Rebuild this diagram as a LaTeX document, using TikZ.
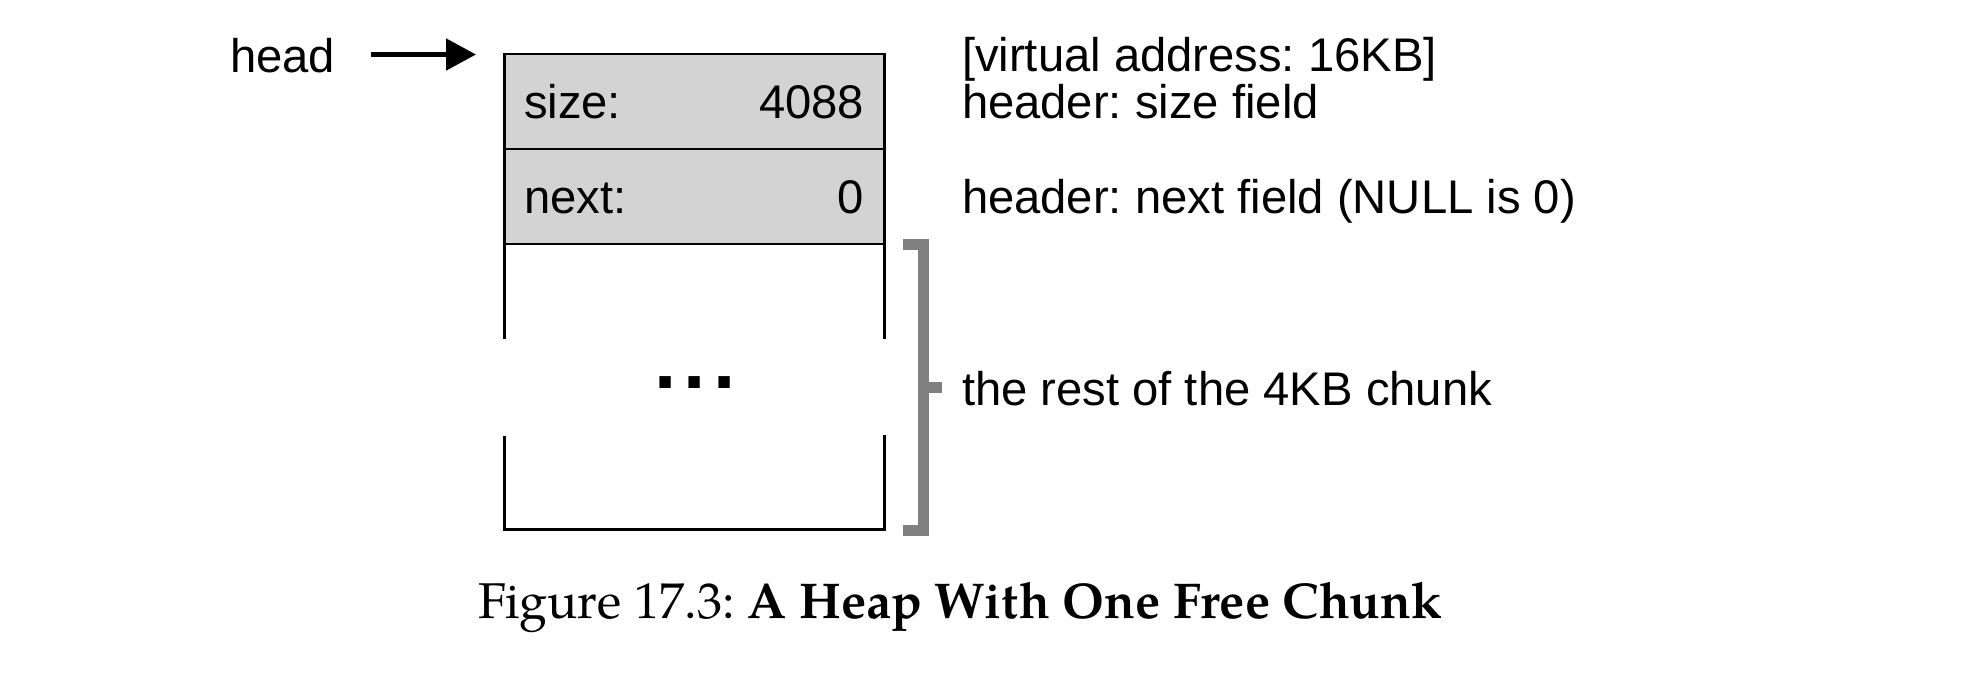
\documentclass[tikz,border=0pt]{standalone}
\usepackage{fontspec}
\setmainfont{Liberation Sans}
\newfontfamily\capfont{TeX Gyre Pagella}
\usetikzlibrary{arrows.meta}
\definecolor{cellgray}{RGB}{211,211,211}
\definecolor{brackgray}{RGB}{128,128,128}
\frenchspacing
\begin{document}
\frenchspacing
\begin{tikzpicture}[x=1pt,y=-1pt,
  lbl/.style={inner sep=0pt, outer sep=0pt, font=\fontsize{47.2}{56}\selectfont},
  cell/.style={draw=black, line width=2.7pt, fill=cellgray, minimum width=380pt,
    minimum height=95pt, inner sep=0pt, outer sep=0pt, anchor=north west},
  wall/.style={draw=black, line width=2.7pt},
  brk/.style={draw=brackgray, line width=11pt},
  ptr/.style={line width=5pt, -{Triangle[length=30pt,width=31pt]}}]
\useasboundingbox (0,0) rectangle (1962,673);

% memory cells
\node[cell] (sizecell) at (504.5,54) {};
\node[cell] (nextcell) at (504.5,149) {};
\node[inner sep=0pt, outer sep=0pt, minimum width=380pt, minimum height=285.5pt,
  anchor=north west] (rest) at (504.5,244) {};
\draw[wall] (rest.north west) -- ++(0,95);
\draw[wall] (rest.north east) -- ++(0,95);
\draw[wall] ([yshift=94pt]rest.south west) -- (rest.south west) -- (rest.south east) -- ++(0,-94.5);

% cell texts
\node[lbl, anchor=base west] (sizelbl) at (524,118) {size:};
\node[lbl, anchor=base east] (sizeval) at (864,118) {4088};
\node[lbl, anchor=base west] (nextlbl) at (524,213) {next:};
\node[lbl, anchor=base east] (nextval) at (864,213) {0};
\node[inner sep=0pt, outer sep=0pt, anchor=base west,
  font=\bfseries\fontsize{80}{90}\selectfont] (dots) at (654.3,388) {.\kern7.3pt.\kern7.3pt.};

% head pointer
\node[lbl, anchor=base west] (head) at (230,72) {head};
\coordinate (aS) at (371,54.5);
\coordinate (aE) at (476,54.5);
\draw[ptr] (aS) -- (aE);

% bracket
\coordinate (bT) at (903,244.5);
\coordinate (bTR) at (923.5,244.5);
\coordinate (bBR) at (923.5,530.3);
\coordinate (bB) at (903,530.3);
\coordinate (bM) at (923.5,387.5);
\coordinate (bMt) at (942,387.5);
\draw[brk] (bT) -- (bTR) -- (bBR) -- (bB);
\draw[brk] (bM) -- (bMt);

% annotations
\node[lbl, anchor=base west] (vaddr) at (962,71) {[virtual address: 16KB]};
\node[lbl, anchor=base west] (hsize) at (962,118) {header: size field};
\node[lbl, anchor=base west] (hnext) at (962,213) {header: next field (NULL is 0)};
\node[lbl, anchor=base west] (restlbl) at (962,405) {the rest of the 4KB chunk};

% caption
\node[inner sep=0pt, anchor=base, font=\capfont\fontsize{50.3}{60}\selectfont] (cap)
  at (960,618) {Figure 17.3: \textbf{A Heap With One Free Chunk}};
\end{tikzpicture}
\end{document}
